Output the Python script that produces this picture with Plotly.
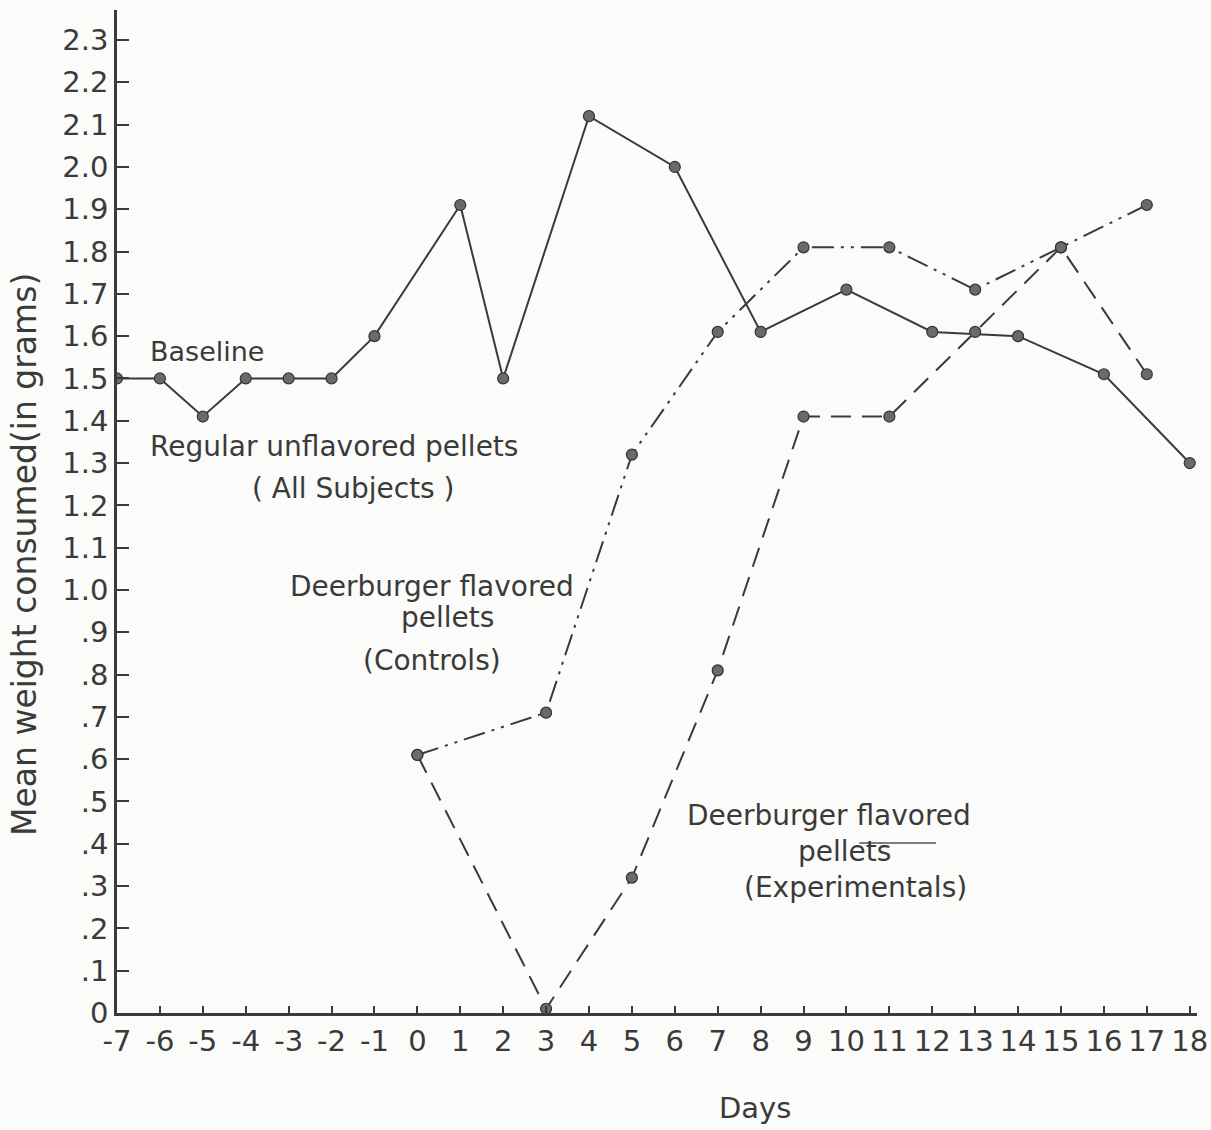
import plotly.graph_objects as go

# ---------------- data ----------------
regular_days = [-7, -6, -5, -4, -3, -2, -1, 1, 2, 4, 6, 8, 10, 12, 14, 16, 18]
regular_vals = [1.50, 1.50, 1.41, 1.50, 1.50, 1.50, 1.60, 1.91, 1.50, 2.12, 2.00, 1.61, 1.71, 1.61, 1.60, 1.51, 1.30]

control_days = [0, 3, 5, 7, 9, 11, 13, 15, 17]
control_vals = [0.61, 0.71, 1.32, 1.61, 1.81, 1.81, 1.71, 1.81, 1.91]

exper_days = [0, 3, 5, 7, 9, 11, 13, 15, 17]
exper_vals = [0.61, 0.01, 0.32, 0.81, 1.41, 1.41, 1.61, 1.81, 1.51]

x_ticks = list(range(-7, 19))
x_ticklabels = [str(v) for v in x_ticks]
y_ticks = [round(i * 0.1, 1) for i in range(0, 24)]
y_ticklabels = ["0", ".1", ".2", ".3", ".4", ".5", ".6", ".7", ".8", ".9",
                "1.0", "1.1", "1.2", "1.3", "1.4", "1.5", "1.6", "1.7", "1.8",
                "1.9", "2.0", "2.1", "2.2", "2.3"]

INK = "#3a3a3a"
BG = "#fbfbf9"
FONT = "DejaVu Sans"
marker = dict(size=11, color="#6a6a6a", line=dict(color="#333333", width=1.2))

W, H = 1211, 1130
ML, MR, MT, MB = 117, 14, 10, 117
PW, PH = W - ML - MR, H - MT - MB

fig = go.Figure()
fig.add_trace(go.Scatter(x=regular_days, y=regular_vals, mode="lines+markers",
                         line=dict(color=INK, width=2), marker=marker,
                         name="Regular unflavored pellets", showlegend=False))
fig.add_trace(go.Scatter(x=control_days, y=control_vals, mode="lines+markers",
                         line=dict(color=INK, width=2, dash="22px,7px,3px,7px,3px,7px"),
                         marker=marker, name="Controls", showlegend=False))
fig.add_trace(go.Scatter(x=exper_days, y=exper_vals, mode="lines+markers",
                         line=dict(color=INK, width=2, dash="20px,11px"),
                         marker=marker, name="Experimentals", showlegend=False))

labels = [
    ("Baseline", -6.28, 1.563, "left", 27),
    ("Regular unflavored pellets", -6.28, 1.338, "left", 28),
    ("( All Subjects )", -1.5, 1.239, "center", 28),
    ("Deerburger flavored", 0.33, 1.009, "center", 28),
    ("pellets", 0.70, 0.936, "center", 28),
    ("(Controls)", 0.33, 0.834, "center", 28),
    ("Deerburger flavored", 9.6, 0.468, "center", 28),
    ("pellets", 9.95, 0.381, "center", 28),
    ("(Experimentals)", 10.2, 0.296, "center", 28),
]
for txt, x, y, xa, sz in labels:
    fig.add_annotation(x=x, y=y, xref="x", yref="y", text=txt, showarrow=False,
                       xanchor=xa, yanchor="middle",
                       font=dict(family=FONT, size=sz, color=INK))

# axis titles as annotations (paper coordinates)
fig.add_annotation(x=(24 - ML) / PW, y=(H - MB - 555) / PH, xref="paper", yref="paper",
                   text="Mean weight consumed(in grams)", textangle=-90, showarrow=False,
                   xanchor="center", yanchor="middle",
                   font=dict(family=FONT, size=33, color=INK))
fig.add_annotation(x=(755 - ML) / PW, y=(H - MB - 1108) / PH, xref="paper", yref="paper",
                   text="Days", showarrow=False, xanchor="center", yanchor="middle",
                   font=dict(family=FONT, size=29, color=INK))

# stray pen stroke above "pellets" in the original scan
fig.add_shape(type="line", xref="x", yref="y", x0=10.30, x1=12.09, y0=0.402, y1=0.402,
              line=dict(color="#555555", width=1.5))

fig.update_layout(
    width=W, height=H,
    margin=dict(l=ML, r=MR, t=MT, b=MB, autoexpand=False),
    paper_bgcolor=BG, plot_bgcolor=BG,
    font=dict(family=FONT, color=INK),
)
fig.update_xaxes(
    range=[-7, 18.17], tickmode="array", tickvals=x_ticks, ticktext=x_ticklabels,
    ticks="inside", ticklen=7, tickwidth=1.5, tickcolor=INK, automargin=False,
    showline=True, linecolor=INK, linewidth=2.5, showgrid=False, zeroline=False,
    tickfont=dict(family=FONT, size=29, color=INK),
)
fig.update_yaxes(
    range=[0, 2.371], tickmode="array", tickvals=y_ticks, ticktext=y_ticklabels,
    ticks="inside", ticklen=12, tickwidth=1.5, tickcolor=INK, automargin=False,
    showline=True, linecolor=INK, linewidth=2.5, showgrid=False, zeroline=False,
    tickfont=dict(family=FONT, size=29, color=INK),
)

fig.write_html("out.html", config={"displayModeBar": False},
               post_script="document.body.style.margin='0';document.body.style.overflow='hidden';"
                           "document.body.style.background='%s';" % BG)
